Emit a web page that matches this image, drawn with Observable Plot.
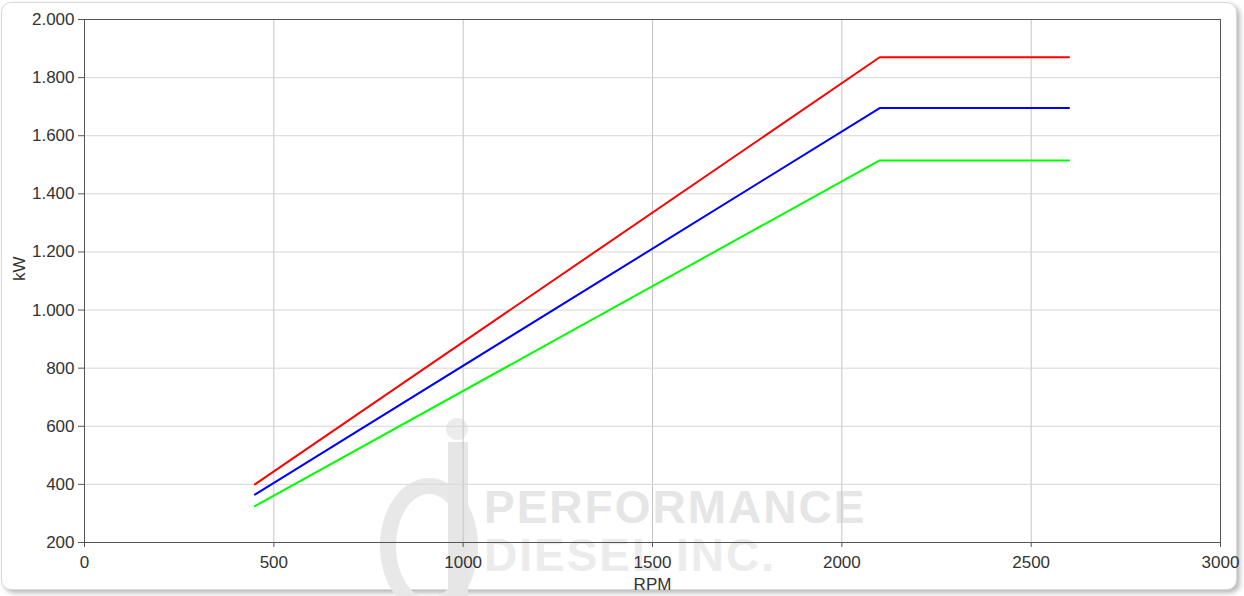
<!DOCTYPE html>
<html>
<head>
<meta charset="utf-8">
<script src="https://cdn.jsdelivr.net/npm/d3@7"></script>
<script src="https://cdn.jsdelivr.net/npm/@observablehq/plot@0.6"></script>
<style>
  html, body { margin: 0; padding: 0; background: #fff; }
  #wrap { position: relative; width: 1244px; height: 596px; overflow: hidden; font-family: "Liberation Sans", Arial, sans-serif; }
  #panel { position: absolute; left: 1px; top: 2px; width: 1234px; height: 586px; border: 1px solid #d9d9d9; border-radius: 10px; box-shadow: 3px 3px 5px rgba(0,0,0,0.28); background: #fff; }
  #wm { position: absolute; left: 0; top: 0; width: 1244px; height: 596px; }
  .wmtext { position: absolute; font-family: "Liberation Sans", Arial, sans-serif; font-weight: bold; font-size: 46px; letter-spacing: 2px; color: #e6e6e6; white-space: nowrap; line-height: 1; }
  #chart { position: absolute; left: 0; top: 0; }
</style>
</head>
<body>
<div id="wrap">
  <div id="panel"></div>
  <div id="wm">
    <div style="position:absolute;left:380px;top:478px;width:66px;height:104px;border:16px solid #e8e8e8;border-radius:50%;"></div>
    <div style="position:absolute;left:448px;top:442px;width:20px;height:160px;background:#e6e6e6;"></div>
    <div style="position:absolute;left:446px;top:418px;width:22px;height:22px;border-radius:50%;background:#ececec;"></div>
    <div class="wmtext" style="left:484px;top:484px;">PERFORMANCE</div>
    <div class="wmtext" style="left:484px;top:532px;color:#ececec;">DIESEL INC.</div>
  </div>
  <div id="chart"></div>
</div>
<script>
const rpm = [450, 2100, 2600];
const seriesNames = ["Rot", "Blau", "Grün"];
const redKW = [400, 1870, 1870];
const blueKW = [365, 1695, 1695];
const greenKW = [325, 1515, 1515];
const seriesColors = ["#ff0000", "#0000ff", "#00ff00"];
const xTicks = [0, 500, 1000, 1500, 2000, 2500, 3000];
const yTicks = [200, 400, 600, 800, 1000, 1200, 1400, 1600, 1800, 2000];

const allValues = [redKW, blueKW, greenKW];
const rows = [];
seriesNames.forEach((name, i) => {
  rpm.forEach((r, j) => rows.push({series: name, rpm: r, kw: allValues[i][j]}));
});

const de = d3.formatLocale({decimal: ",", thousands: ".", grouping: [3], currency: ["", "€"]});
const yFmt = de.format(",d");

const chart = Plot.plot({
  width: 1244,
  height: 596,
  marginLeft: 84,
  marginRight: 24,
  marginTop: 19,
  marginBottom: 54,
  style: {background: "transparent", fontFamily: "'Liberation Sans', Arial, sans-serif", fontSize: "17px", color: "#333"},
  x: {domain: [0, 3000]},
  y: {domain: [200, 2000]},
  color: {domain: seriesNames, range: seriesColors},
  marks: [
    Plot.gridX(xTicks, {stroke: "#c4c4c4", strokeOpacity: 1}),
    Plot.gridY(yTicks, {stroke: "#d6d6d6", strokeOpacity: 1}),
    Plot.frame({stroke: "#555"}),
    Plot.axisX(xTicks, {tickSize: 5, tickPadding: 8, tickFormat: d => String(d), label: null, stroke: "#555", fill: "#333", fontSize: 17}),
    Plot.axisY(yTicks, {tickSize: 6, tickPadding: 4, tickFormat: yFmt, label: null, stroke: "#555", fill: "#333", fontSize: 17}),
    Plot.ruleY([200], {stroke: "#555"}),
    Plot.line(rows, {x: "rpm", y: "kw", z: "series", stroke: "series", strokeWidth: 2}),
    Plot.text(["kW"], {frameAnchor: "left", text: d => d, rotate: -90, dx: -65, fill: "#333", fontSize: 17}),
    Plot.text(["RPM"], {frameAnchor: "bottom", text: d => d, dy: 47, fill: "#333", fontSize: 17})
  ]
});
document.getElementById("chart").appendChild(chart);
</script>
</body>
</html>
